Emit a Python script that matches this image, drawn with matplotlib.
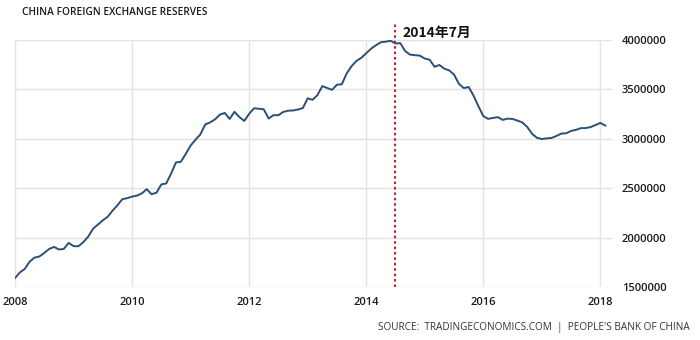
import numpy as np
import matplotlib
matplotlib.use("Agg")
import matplotlib.pyplot as plt

# China FX reserves, USD million, monthly Jan 2008 .. Feb 2018
reserves = [
    1589800, 1647100, 1682200, 1756700, 1797000, 1808800, 1845200, 1884100, 1905600, 1879700, 1884700, 1946000,
    1913500, 1912100, 1953700, 2008900, 2089500, 2131600, 2174600, 2210800, 2272600, 2327300, 2388800, 2399200,
    2415200, 2424600, 2447100, 2490500, 2439500, 2454300, 2538600, 2547800, 2648300, 2760900, 2767800, 2847300,
    2931700, 2991400, 3044700, 3145400, 3166200, 3197500, 3245300, 3262500, 3201700, 3273800, 3220900, 3181100,
    3253600, 3309600, 3305000, 3299100, 3206100, 3240000, 3239800, 3272900, 3285100, 3287400, 3296800, 3311600,
    3410000, 3395400, 3442600, 3534500, 3514800, 3496700, 3547800, 3553000, 3662700, 3736600, 3789500, 3821300,
    3866400, 3913700, 3948100, 3978800, 3983900, 3993200, 3966300, 3968800, 3887700, 3852900, 3847400, 3843000,
    3813400, 3801500, 3730000, 3748100, 3711100, 3693800, 3651300, 3557400, 3514100, 3525500, 3438300, 3330400,
    3230900, 3202300, 3212600, 3219700, 3191700, 3205200, 3201100, 3185200, 3166400, 3120700, 3051600, 3010500,
    2998200, 3005100, 3009100, 3029500, 3053600, 3056800, 3080700, 3091500, 3108500, 3109200, 3119300, 3139900,
    3161500, 3134500,
]
start_year = 2008
x_ticks = [2008, 2010, 2012, 2014, 2016, 2018]
y_ticks = [1500000, 2000000, 2500000, 3000000, 3500000, 4000000]
marker_date = 2014.5  # July 2014
marker_label = "2014年7月"
title = "CHINA FOREIGN EXCHANGE RESERVES"
source = "SOURCE:  TRADINGECONOMICS.COM  |  PEOPLE'S BANK OF CHINA"

plt.rcParams["font.family"] = ["Open Sans", "DejaVu Sans"]

t = start_year + np.arange(len(reserves)) / 12.0

fig = plt.figure(figsize=(7, 3.4), dpi=100)
ax = fig.add_axes([0.0214, 0.156, 0.853, 0.726])

ax.plot(t, reserves, color="#2b4f75", lw=1.4, zorder=3)

ax.set_xlim(2008, 2018.2)
ax.set_ylim(1500000, 4000000)
ax.set_xticks(x_ticks)
ax.set_xticklabels([str(v) for v in x_ticks])
ax.set_yticks(y_ticks)
ax.set_yticklabels([str(v) for v in y_ticks])
ax.yaxis.tick_right()
ax.tick_params(axis="both", length=0, labelsize=8, colors="#1a1a1a")
ax.tick_params(axis="x", pad=7)
ax.tick_params(axis="y", pad=7)
for lab in ax.get_xticklabels() + ax.get_yticklabels():
    lab.set_fontweight("semibold")
ax.grid(True, color="#e3e3e3", lw=1)
ax.set_axisbelow(True)
for s in ax.spines.values():
    s.set_visible(False)

# dotted marker line, runs above the plot area
ax.axvline(marker_date, ymin=0, ymax=1.07, color="#b8252a", ls=(0, (1.2, 1.4)), lw=1.5,
           clip_on=False, zorder=4)
ax.text(marker_date + 0.12, 1.03, marker_label, transform=ax.get_xaxis_transform(),
        fontsize=10, fontweight="bold", family=["Noto Sans CJK SC", "DejaVu Sans"],
        ha="left", va="center", color="#111111")

fig.text(0.031, 0.963, title, fontsize=7.3, fontweight="semibold", color="#1a1a1a",
         ha="left", va="center")
fig.text(0.986, 0.038, source, fontsize=7.2, color="#333333", ha="right", va="center")

fig.savefig("out.png", dpi=100)
